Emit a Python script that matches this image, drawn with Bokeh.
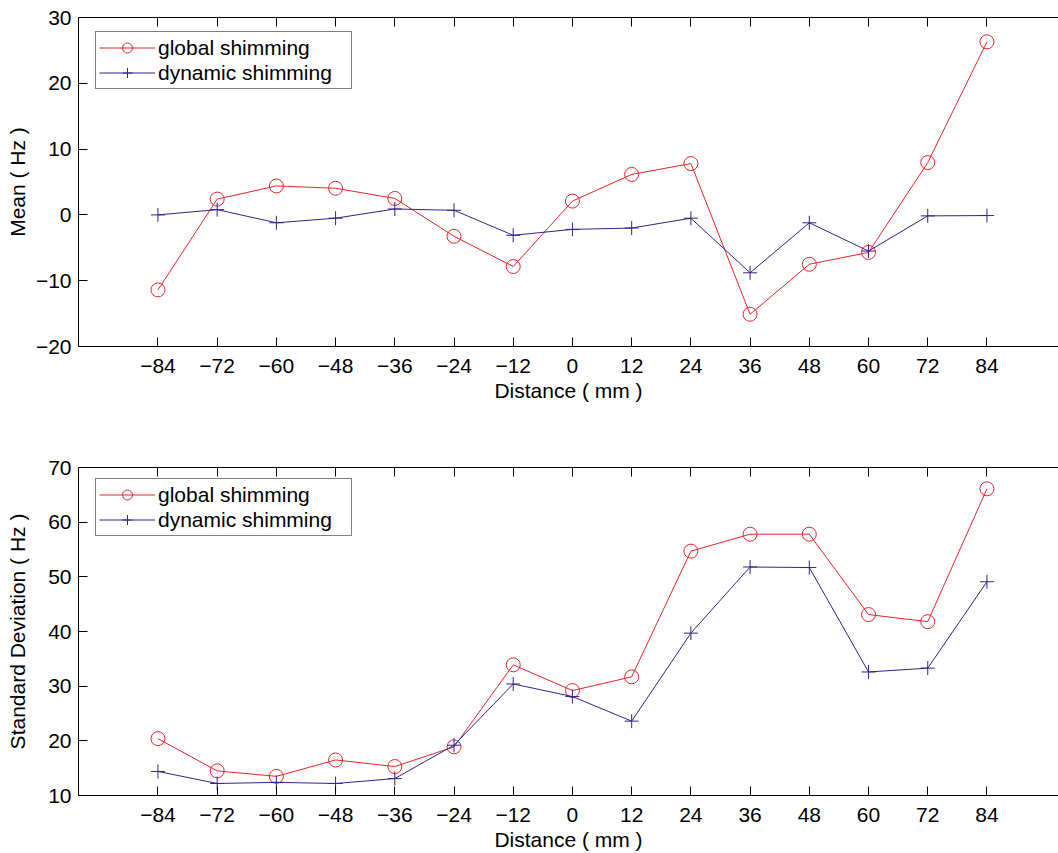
from bokeh.plotting import figure
from bokeh.layouts import column
from bokeh.models import (Range1d, FixedTicker, LinearAxis, Legend, LegendItem,
                          CustomJSTickFormatter)
from bokeh.embed import file_html
from bokeh.resources import INLINE

# ---------------- data ----------------
distance = [-84, -72, -60, -48, -36, -24, -12, 0, 12, 24, 36, 48, 60, 72, 84]
x_ticks = [-84, -72, -60, -48, -36, -24, -12, 0, 12, 24, 36, 48, 60, 72, 84]

mean_global = [-11.4, 2.4, 4.4, 4.05, 2.5, -3.25, -7.85, 2.1, 6.15, 7.8, -15.1, -7.5, -5.7, 7.95, 26.3]
mean_dynamic = [0.0, 0.8, -1.2, -0.5, 0.9, 0.7, -3.1, -2.2, -2.0, -0.5, -8.8, -1.2, -5.5, -0.15, -0.1]

std_global = [20.4, 14.5, 13.5, 16.5, 15.3, 18.9, 33.9, 29.2, 31.7, 54.7, 57.8, 57.8, 43.1, 41.8, 66.1]
std_dynamic = [14.4, 12.2, 12.4, 12.2, 13.1, 19.2, 30.4, 28.1, 23.6, 39.7, 51.8, 51.7, 32.6, 33.3, 49.1]

mean_yticks = [-20, -10, 0, 10, 20, 30]
std_yticks = [10, 20, 30, 40, 50, 60, 70]

labels = ["global shimming", "dynamic shimming"]
RED = "#e8232b"
BLUE = "#33228a"
FONT = "Liberation Sans"
FS = "21px"

minus_fmt = CustomJSTickFormatter(code="return tick < 0 ? '\u2212' + Math.abs(tick) : '' + tick;")
blank_fmt = CustomJSTickFormatter(code="return '';")


def make_fig(yrange, yticks, ylabel, height, top_border, bottom_border, ylabel_standoff, leg_loc,
             g_vals, d_vals):
    p = figure(width=1058, height=height, x_range=Range1d(-100.1, 98.5), y_range=Range1d(*yrange),
               output_backend="svg", toolbar_location=None,
               min_border_left=78, min_border_right=0, min_border_top=top_border,
               min_border_bottom=bottom_border)
    p.outline_line_color = None
    p.xgrid.visible = False
    p.ygrid.visible = False
    p.background_fill_color = "white"
    p.border_fill_color = "white"

    for ax in (p.xaxis[0], p.yaxis[0]):
        ax.major_tick_in = 9
        ax.major_tick_out = 0
        ax.minor_tick_in = 0
        ax.minor_tick_out = 0
        ax.axis_line_color = "black"
        ax.axis_line_width = 1
        ax.major_tick_line_color = "black"
        ax.major_label_text_font = FONT
        ax.major_label_text_font_size = FS
        ax.major_label_text_color = "black"
        ax.axis_label_text_font = FONT
        ax.axis_label_text_font_size = FS
        ax.axis_label_text_font_style = "normal"
        ax.axis_label_text_color = "black"
        ax.formatter = minus_fmt

    p.xaxis[0].ticker = FixedTicker(ticks=x_ticks)
    p.xaxis[0].axis_label = "Distance ( mm )"
    p.xaxis[0].major_label_standoff = 12
    p.xaxis[0].axis_label_standoff = 3

    p.yaxis[0].ticker = FixedTicker(ticks=yticks)
    p.yaxis[0].axis_label = ylabel
    p.yaxis[0].major_label_standoff = 7
    p.yaxis[0].axis_label_standoff = ylabel_standoff

    top = LinearAxis(ticker=FixedTicker(ticks=x_ticks), formatter=blank_fmt)
    top.major_tick_in = 9
    top.major_tick_out = 0
    top.minor_tick_in = 0
    top.minor_tick_out = 0
    top.major_label_standoff = 0
    top.axis_line_color = "black"
    p.add_layout(top, "above")

    lg = p.line(distance, g_vals, line_color=RED, line_width=1)
    sg = p.scatter(distance, g_vals, marker="circle", size=14, fill_color=None,
                   line_color=RED, line_width=1)
    ld = p.line(distance, d_vals, line_color=BLUE, line_width=1)
    sd = p.scatter(distance, d_vals, marker="cross", size=14, line_color=BLUE, line_width=1)

    legend = Legend(items=[LegendItem(label=labels[0], renderers=[lg, sg]),
                           LegendItem(label=labels[1], renderers=[ld, sd])],
                    location=leg_loc)
    legend.label_text_font = FONT
    legend.label_text_font_size = FS
    legend.label_text_color = "black"
    legend.glyph_width = 56
    legend.glyph_height = 25
    legend.label_height = 25
    legend.label_width = 190
    legend.label_standoff = 3
    legend.spacing = 0
    legend.padding = 3
    legend.margin = 0
    legend.border_line_color = "black"
    legend.border_line_width = 1
    legend.background_fill_color = "white"
    legend.background_fill_alpha = 1
    p.add_layout(legend)
    return p


p1 = make_fig((-20, 30), mean_yticks, "Mean ( Hz )", 450, 17, 104, 4, (17, 257),
              mean_global, mean_dynamic)
p2 = make_fig((10, 70), std_yticks, "Standard Deviation ( Hz )", 403, 17, 58, 16, (17, 259),
              std_global, std_dynamic)

layout = column(p1, p2, spacing=0)
open("out.html", "w").write(file_html(layout, INLINE))
